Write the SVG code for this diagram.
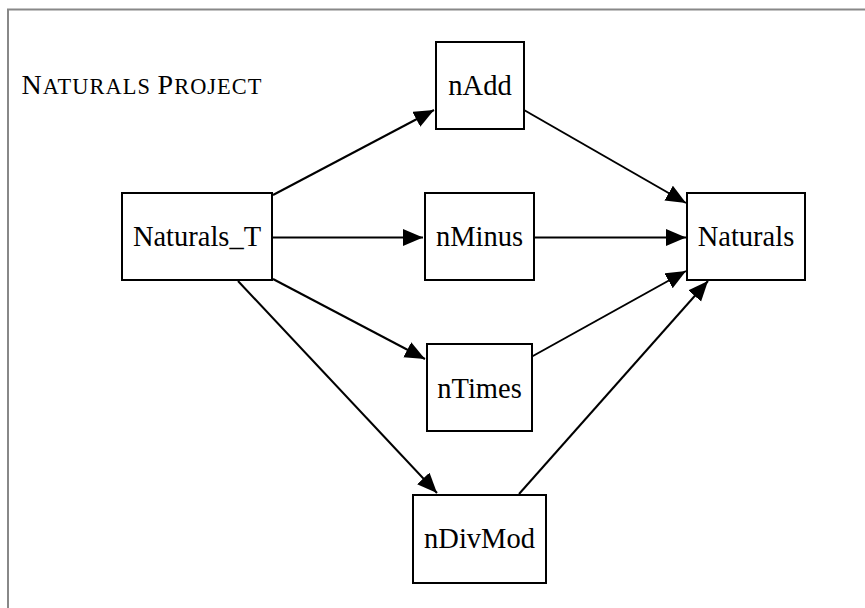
<svg xmlns="http://www.w3.org/2000/svg" width="865" height="608" viewBox="0 0 865 608">
<defs>
<style>
.node rect{fill:#fff;stroke:#000;stroke-width:2}
.node text{font-family:"Liberation Serif","Times New Roman",serif;font-size:28.5px;fill:#000;text-anchor:middle}
.edge{stroke:#000;stroke-width:2;fill:none;marker-end:url(#arr)}
.title{font-family:"Liberation Serif","Times New Roman",serif;fill:#000}
</style>
<marker id="arr" markerUnits="userSpaceOnUse" markerWidth="22" markerHeight="18" refX="20" refY="8.5" orient="auto" viewBox="0 0 22 18">
<path d="M0,0 L20,8.5 L0,17 Z" fill="#000"/>
</marker>
</defs>
<rect x="0" y="0" width="865" height="608" fill="#fff"/>
<rect x="8" y="9.5" width="900" height="650" fill="none" stroke="#888" stroke-width="2"/>
<text class="title" x="21.5" y="94" textLength="240" lengthAdjust="spacing"><tspan font-size="28">N</tspan><tspan font-size="22.4">ATURALS </tspan><tspan font-size="28">P</tspan><tspan font-size="22.4">ROJECT</tspan></text>
<g id="edges">
<line class="edge" x1="273" y1="195" x2="434" y2="110"/>
<line class="edge" x1="273" y1="237.5" x2="423" y2="237.5"/>
<line class="edge" x1="273" y1="279" x2="425" y2="359"/>
<line class="edge" x1="238" y1="281" x2="437" y2="493"/>
<line class="edge" x1="524" y1="110" x2="686" y2="203"/>
<line class="edge" x1="534" y1="237.5" x2="686" y2="237.5"/>
<line class="edge" x1="532" y1="356.5" x2="686" y2="271"/>
<line class="edge" x1="519" y1="494" x2="708" y2="281"/>
</g>
<g id="Naturals_T" class="node"><rect x="122" y="193" width="150" height="87"/><text x="197" y="246">Naturals_T</text></g>
<g id="nAdd" class="node"><rect x="436" y="42" width="88" height="87"/><text x="480" y="95">nAdd</text></g>
<g id="nMinus" class="node"><rect x="425" y="193" width="109" height="87"/><text x="479.5" y="246">nMinus</text></g>
<g id="nTimes" class="node"><rect x="427" y="344" width="105" height="87"/><text x="479.5" y="398">nTimes</text></g>
<g id="nDivMod" class="node"><rect x="413" y="495" width="133" height="88"/><text x="479.5" y="548">nDivMod</text></g>
<g id="Naturals" class="node"><rect x="687" y="193" width="118" height="87"/><text x="746" y="246">Naturals</text></g>
</svg>
